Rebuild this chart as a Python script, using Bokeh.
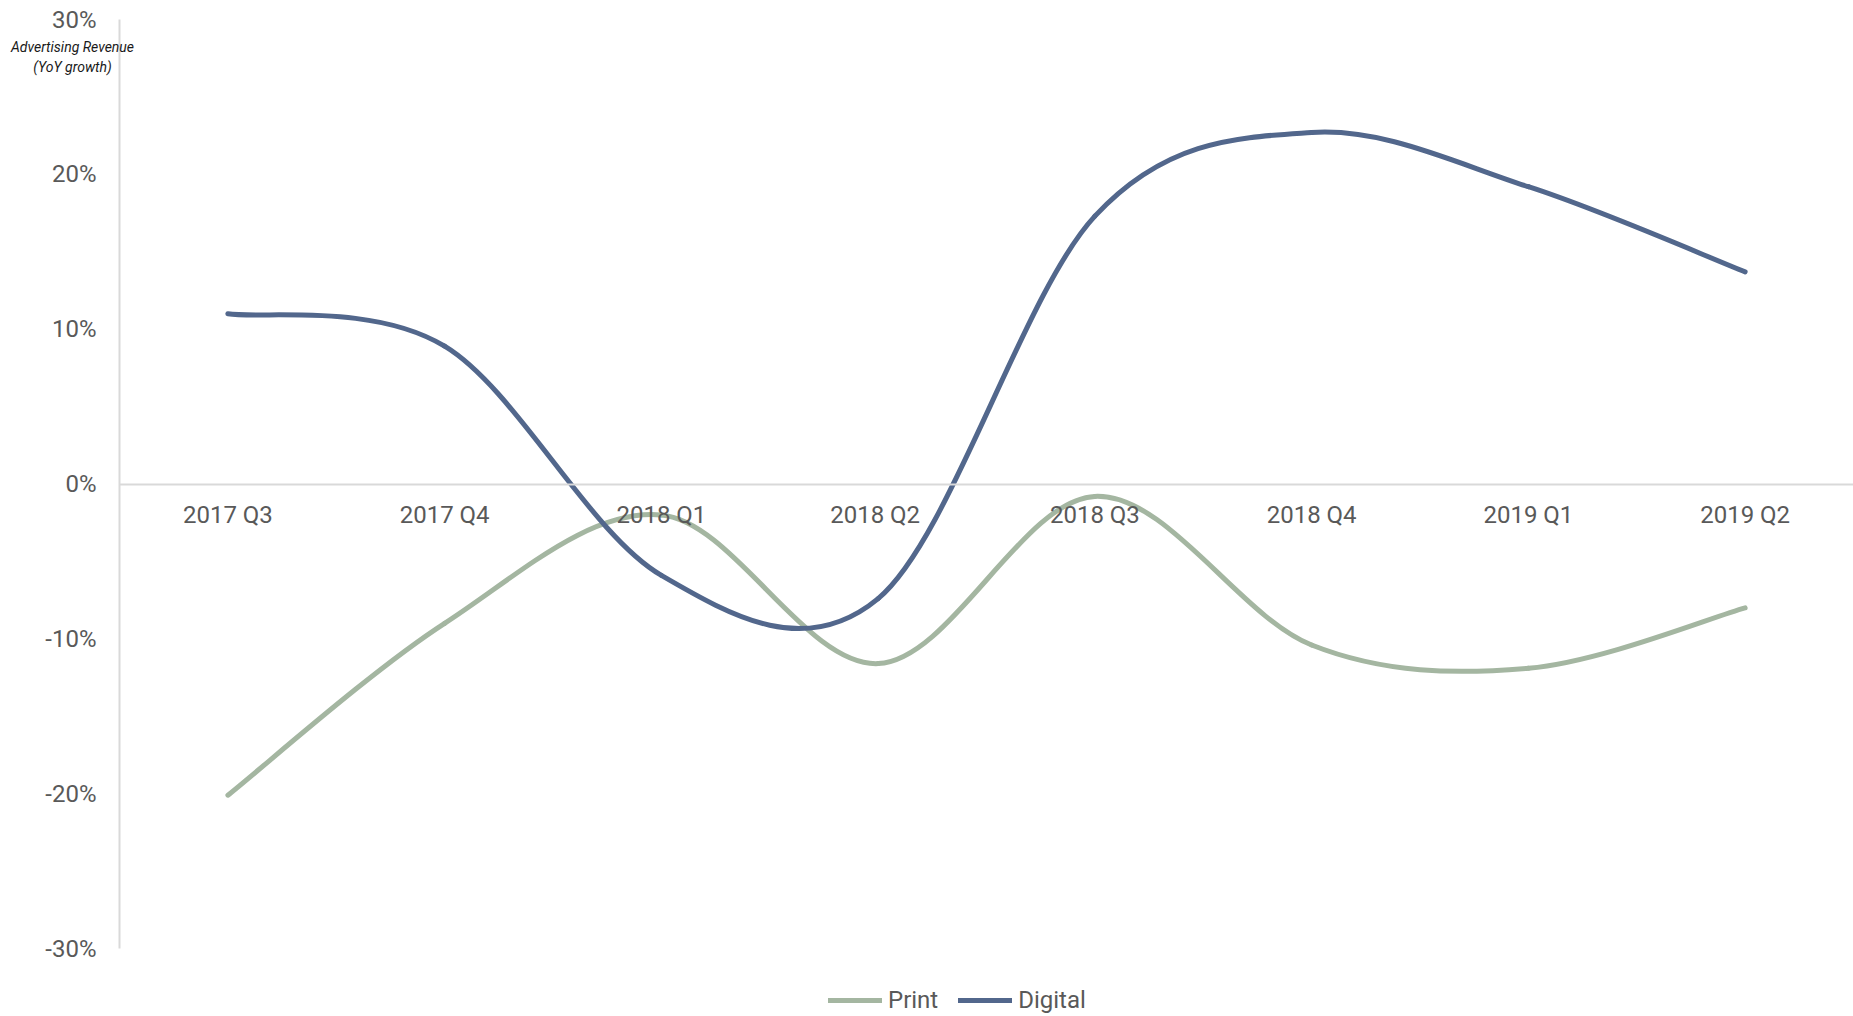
from bokeh.plotting import figure
from bokeh.models import (Range1d, FixedTicker, PrintfTickFormatter, Label, Legend,
                          LegendItem, ColumnDataSource)
from bokeh.embed import file_html
from bokeh.resources import INLINE

categories = ["2017 Q3", "2017 Q4", "2018 Q1", "2018  Q2", "2018 Q3", "2018 Q4", "2019 Q1", "2019 Q2"]
print_vals = [-20.1, -9.0, -2.0, -11.6, -0.8, -10.4, -11.9, -8.0]
digital_vals = [11.0, 8.9, -5.9, -7.4, 17.3, 22.7, 19.2, 13.7]
y_ticks = [-30, -20, -10, 0, 10, 20, 30]

PRINT_COLOR = "#a4b6a1"
DIGITAL_COLOR = "#52678c"
TEXT_COLOR = "#595959"
AXIS_COLOR = "#d9d9d9"

W, H = 1853, 1016
# pixel layout of the plotting area (axis lines) inside the canvas
AX_LEFT, AX_RIGHT, AX_TOP, AX_BOTTOM = 119, 1853, 19, 948
Y_MIN, Y_MAX = -30, 30
N = len(categories)

xs = [i + 0.5 for i in range(N)]

# data ranges that span the whole canvas so that axes can sit at fixed locations
sx = (AX_RIGHT - AX_LEFT) / N
sy = (AX_BOTTOM - AX_TOP) / (Y_MAX - Y_MIN)
x_range = Range1d(-AX_LEFT / sx, N + (W - AX_RIGHT) / sx)
y_range = Range1d(Y_MIN - (H - AX_BOTTOM) / sy, Y_MAX + AX_TOP / sy)


def smooth_segments(x, y):
    """Catmull-Rom style bezier control points for a smoothed line."""
    n = len(x)
    d = dict(x0=[], y0=[], x1=[], y1=[], cx0=[], cy0=[], cx1=[], cy1=[])
    for i in range(n - 1):
        xp, yp = (x[i - 1], y[i - 1]) if i > 0 else (x[i], y[i])
        xn, yn = (x[i + 2], y[i + 2]) if i + 2 < n else (x[i + 1], y[i + 1])
        d["x0"].append(x[i]); d["y0"].append(y[i])
        d["x1"].append(x[i + 1]); d["y1"].append(y[i + 1])
        d["cx0"].append(x[i] + (x[i + 1] - xp) / 6.0)
        d["cy0"].append(y[i] + (y[i + 1] - yp) / 6.0)
        d["cx1"].append(x[i + 1] - (xn - x[i]) / 6.0)
        d["cy1"].append(y[i + 1] - (yn - y[i]) / 6.0)
    return ColumnDataSource(d)


p = figure(width=W, height=H, output_backend="svg", toolbar_location=None,
           x_range=x_range, y_range=y_range,
           min_border=0, min_border_left=0, min_border_right=0,
           min_border_top=0, min_border_bottom=0)
p.outline_line_color = None
p.grid.visible = False
p.background_fill_color = "white"
p.border_fill_color = "white"

# x axis sits on the zero line
xa = p.xaxis[0]
xa.fixed_location = 0
xa.bounds = (0, N)
xa.ticker = FixedTicker(ticks=xs)
xa.major_label_overrides = {x: c for x, c in zip(xs, categories)}
xa.axis_line_color = AXIS_COLOR
xa.axis_line_width = 2
xa.major_tick_line_color = None
xa.minor_tick_line_color = None
xa.major_label_standoff = 11
xa.major_label_text_font = "Roboto"
xa.major_label_text_font_size = "24px"
xa.major_label_text_color = TEXT_COLOR
xa.major_label_text_font_style = "normal"

ya = p.yaxis[0]
ya.fixed_location = 0
ya.bounds = (Y_MIN, Y_MAX)
ya.ticker = FixedTicker(ticks=y_ticks)
ya.formatter = PrintfTickFormatter(format="%d%%")
ya.axis_line_color = AXIS_COLOR
ya.axis_line_width = 2
ya.major_tick_line_color = None
ya.minor_tick_line_color = None
ya.major_label_standoff = 17
ya.major_label_text_font = "Roboto"
ya.major_label_text_font_size = "24px"
ya.major_label_text_color = TEXT_COLOR

r_print = p.bezier(x0="x0", y0="y0", x1="x1", y1="y1", cx0="cx0", cy0="cy0",
                   cx1="cx1", cy1="cy1", source=smooth_segments(xs, print_vals),
                   line_color=PRINT_COLOR, line_width=5, line_cap="round")
r_digital = p.bezier(x0="x0", y0="y0", x1="x1", y1="y1", cx0="cx0", cy0="cy0",
                     cx1="cx1", cy1="cy1", source=smooth_segments(xs, digital_vals),
                     line_color=DIGITAL_COLOR, line_width=5, line_cap="round")

title = Label(x=0, y=Y_MAX, x_offset=-47, y_offset=-19, x_units="data", y_units="data",
              text="Advertising Revenue\n(YoY growth)", text_align="center",
              text_baseline="top", text_font="Roboto", text_font_size="14px",
              text_font_style="italic", text_color="#1a1a1a", text_line_height=1.3)
p.add_layout(title)

legend = Legend(items=[LegendItem(label="Print", renderers=[r_print], index=0),
                       LegendItem(label="Digital", renderers=[r_digital], index=0)],
                orientation="horizontal", location=(828, 2),
                glyph_width=54, glyph_height=24, label_standoff=6, spacing=20,
                padding=4, margin=0, border_line_color=None,
                background_fill_alpha=0,
                label_text_font="Roboto", label_text_font_size="24px",
                label_text_color=TEXT_COLOR)
p.add_layout(legend)

open("out.html", "w").write(file_html(p, INLINE))
